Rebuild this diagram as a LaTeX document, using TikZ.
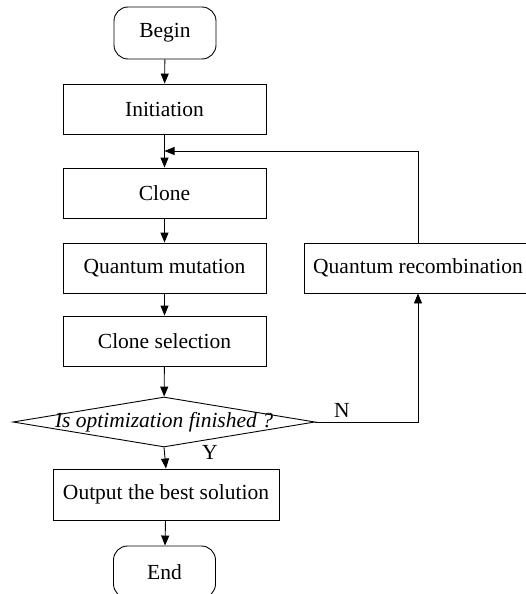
\documentclass[tikz,border=0pt]{standalone}
\usepackage{fontspec}
\setmainfont{Liberation Serif}
\usetikzlibrary{arrows.meta,shapes.geometric,calc}
\begin{document}
\begin{tikzpicture}[x=1pt,y=-1pt,
  every node/.style={font=\fontsize{21.5}{24}\selectfont},
  box/.style={draw,line width=0.9pt,rectangle,inner sep=0pt,minimum height=50pt},
  term/.style={draw,line width=0.9pt,rectangle,rounded corners=14pt,inner sep=0pt,minimum width=102pt,minimum height=52pt},
  decision/.style={draw,line width=0.9pt,diamond,aspect=1,inner sep=0pt,minimum width=302pt,minimum height=50pt},
  arr/.style={line width=0.9pt,-{Triangle[length=10pt,width=8pt]}},
  lbl/.style={inner sep=0pt}]
\useasboundingbox (0,0) rectangle (525,594);
\node[term] (begin) at (165,33) {Begin};
\node[box,minimum width=203pt] (init) at (164.5,109) {Initiation};
\node[box,minimum width=203pt] (clone) at (164.5,193) {Clone};
\node[box,minimum width=203pt] (mut) at (164.5,268) {Quantum mutation};
\node[box,minimum width=203pt] (sel) at (164.5,341) {Clone selection};
\node[decision] (dec) at (164,422) {\makebox[0pt]{\itshape Is optimization finished ?}};
\node[box,minimum width=226pt,minimum height=51pt] (out) at (166,494.5) {Output the best solution};
\node[term] (end) at (164.5,572) {End};
\node[box,minimum width=228pt] (rec) at (418,268) {Quantum recombination};
\coordinate (join) at ($(init.south)!0.5!(clone.north)$);
\node[lbl] (nlab) at (342,410) {N};
\node[lbl] (ylab) at (210,452) {Y};
\draw[arr] (begin) -- (init);
\draw[arr] (init) -- (clone);
\draw[arr] (clone) -- (mut);
\draw[arr] (mut) -- (sel);
\draw[arr] (sel) -- (dec);
\draw[arr] (dec.south) -- (out.north);
\draw[arr] (out) -- (end);
\draw[arr] (dec.east) -| (rec.south);
\draw[arr] (rec.north) |- (join);
\end{tikzpicture}
\end{document}
